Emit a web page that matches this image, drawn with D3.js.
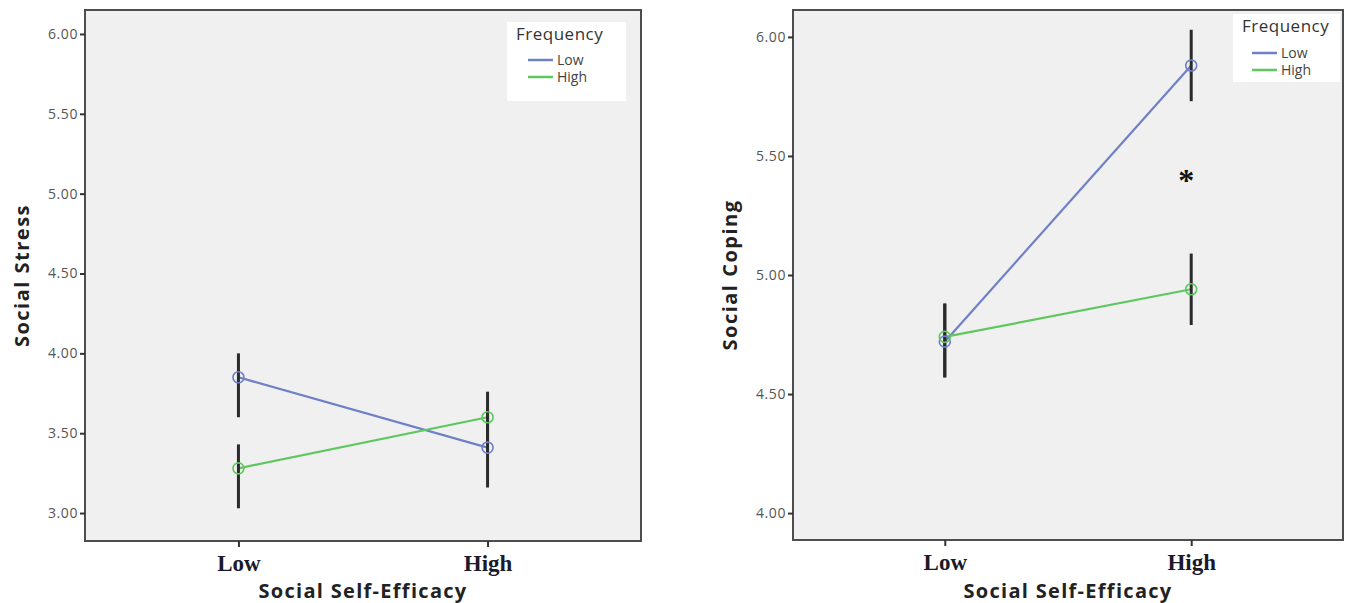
<!DOCTYPE html>
<html lang="en">
<head>
  <meta charset="UTF-8">
  <title>Social Self-Efficacy x Frequency</title>
  <script src="https://d3js.org/d3.v7.min.js"></script>
  <style>
    body { margin: 0; background: #fff; }
    svg { display: block; }
  </style>
</head>
<body>
  <svg id="chart" width="1346" height="603"></svg>
  <script>
    // data
    var categories = ["Low", "High"]
    var freqGroups = ["Low", "High"]

    var stressLowFreq = [3.85, 3.41]
    var stressLowFreqCI = [[3.60, 4.00], [3.16, 3.66]]
    var stressHighFreq = [3.28, 3.60]
    var stressHighFreqCI = [[3.03, 3.43], [3.44, 3.76]]

    var copingLowFreq = [4.72, 5.88]
    var copingLowFreqCI = [[4.57, 4.88], [5.73, 6.03]]
    var copingHighFreq = [4.74, 4.94]
    var copingHighFreqCI = [[4.57, 4.88], [4.79, 5.09]]

    var stressTicks = [3.0, 3.5, 4.0, 4.5, 5.0, 5.5, 6.0]
    var copingTicks = [4.0, 4.5, 5.0, 5.5, 6.0]

    var colors = ["#6f80c6", "#5fc75f"]

    var svg = d3.select("#chart")

    function drawPanel(opt) {
      var x = d3.scalePoint().domain(categories).range([opt.left, opt.right]).padding(0.616)
      var y = d3.scaleLinear().domain(opt.domain).range([opt.bottom, opt.top])

      var g = svg.append("g")

      // plot background
      g.append("rect")
        .attr("x", opt.left).attr("y", opt.top)
        .attr("width", opt.right - opt.left).attr("height", opt.bottom - opt.top)
        .style("fill", "#f0f0f0")
        .style("stroke", "#4d4d4d")
        .style("stroke-width", 2)

      // y axis
      var yAxis = g.append("g")
        .attr("transform", "translate(" + opt.left + ",0)")
        .call(d3.axisLeft(y).tickValues(opt.ticks).tickFormat(d3.format(".2f")).tickSize(5).tickPadding(2))
      yAxis.select(".domain").remove()
      yAxis.selectAll("line").style("stroke", "#333").style("stroke-width", 2)
      yAxis.selectAll("text")
        .style("font-family", "'Open Sans', sans-serif")
        .style("font-size", "14px")
        .style("letter-spacing", "0.6px")
        .style("fill", "#555")

      // x axis
      var xAxis = g.append("g")
        .attr("transform", "translate(0," + opt.bottom + ")")
        .call(d3.axisBottom(x).tickSize(6).tickPadding(8))
      xAxis.select(".domain").remove()
      xAxis.selectAll("line").style("stroke", "#333").style("stroke-width", 2)
      xAxis.selectAll("text")
        .style("font-family", "'Liberation Serif', 'Times New Roman', serif")
        .style("font-weight", "bold")
        .style("font-size", "23px")
        .style("fill", "#1a1a2a")

      // axis titles
      g.append("text")
        .attr("x", (opt.left + opt.right) / 2)
        .attr("y", 598)
        .attr("text-anchor", "middle")
        .style("font-family", "'Open Sans', sans-serif")
        .style("font-weight", "bold")
        .style("font-size", "20px")
        .style("letter-spacing", "1.3px")
        .style("fill", "#222")
        .text("Social Self-Efficacy")

      g.append("text")
        .attr("text-anchor", "middle")
        .attr("transform", "translate(" + opt.titleX + "," + ((opt.top + opt.bottom) / 2) + ")rotate(-90)")
        .style("font-family", "'Open Sans', sans-serif")
        .style("font-weight", "bold")
        .style("font-size", "20px")
        .style("letter-spacing", "1.5px")
        .style("fill", "#222")
        .text(opt.yTitle)

      var line = d3.line()
        .x(function (d, i) { return x(categories[i]) })
        .y(function (d) { return y(d) })

      // lines
      opt.series.forEach(function (s, k) {
        g.append("path")
          .datum(s)
          .attr("d", line)
          .style("fill", "none")
          .style("stroke", colors[k])
          .style("stroke-width", 2.2)
      })

      // error bars
      opt.cis.forEach(function (ci) {
        g.selectAll(null)
          .data(ci)
          .enter()
          .append("line")
          .attr("x1", function (d, i) { return x(categories[i]) })
          .attr("x2", function (d, i) { return x(categories[i]) })
          .attr("y1", function (d) { return y(d[0]) })
          .attr("y2", function (d) { return y(d[1]) })
          .style("stroke", "#2a2a2a")
          .style("stroke-width", 3)
      })

      // point markers
      opt.series.forEach(function (s, k) {
        g.selectAll(null)
          .data(s)
          .enter()
          .append("circle")
          .attr("cx", function (d, i) { return x(categories[i]) })
          .attr("cy", function (d) { return y(d) })
          .attr("r", 5.5)
          .style("fill", "none")
          .style("stroke", colors[k])
          .style("stroke-width", 1.6)
      })

      // legend
      var lg = g.append("g").attr("transform", "translate(" + opt.legX + "," + opt.legY + ")")
      lg.append("rect")
        .attr("width", opt.legW).attr("height", opt.legH)
        .style("fill", "#fff")
      lg.append("text")
        .attr("x", 9).attr("y", opt.legTitleY)
        .style("font-family", "'Open Sans', sans-serif")
        .style("font-size", "17px")
        .style("letter-spacing", "0.5px")
        .style("fill", "#333")
        .text("Frequency")
      freqGroups.forEach(function (name, k) {
        var yy = opt.legRowY + k * 17
        lg.append("line")
          .attr("x1", opt.legLineX).attr("x2", opt.legLineX + 25)
          .attr("y1", yy).attr("y2", yy)
          .style("stroke", colors[k])
          .style("stroke-width", 2.5)
        lg.append("text")
          .attr("x", opt.legLineX + 29).attr("y", yy + 5)
          .style("font-family", "'Open Sans', sans-serif")
          .style("font-size", "14px")
          .style("fill", "#444")
          .text(name)
      })

      return { x: x, y: y, g: g }
    }

    drawPanel({
      left: 85, right: 641, top: 10, bottom: 541,
      domain: [2.825, 6.15], ticks: stressTicks,
      yTitle: "Social Stress", titleX: 29,
      series: [stressLowFreq, stressHighFreq],
      cis: [stressLowFreqCI, stressHighFreqCI],
      legX: 507, legY: 22, legW: 119, legH: 79,
      legTitleY: 18, legRowY: 38, legLineX: 21
    })

    var right = drawPanel({
      left: 793, right: 1343, top: 10, bottom: 540,
      domain: [3.887, 6.113], ticks: copingTicks,
      yTitle: "Social Coping", titleX: 737,
      series: [copingLowFreq, copingHighFreq],
      cis: [copingLowFreqCI, copingHighFreqCI],
      legX: 1233, legY: 14, legW: 107, legH: 68,
      legTitleY: 18, legRowY: 39, legLineX: 19
    })

    // significance marker
    right.g.append("text")
      .attr("x", right.x("High") - 5)
      .attr("y", right.y(5.41) + 14)
      .attr("text-anchor", "middle")
      .style("font-family", "'Liberation Serif', serif")
      .style("font-weight", "bold")
      .style("font-size", "32px")
      .style("fill", "#111")
      .text("*")
  </script>
</body>
</html>
